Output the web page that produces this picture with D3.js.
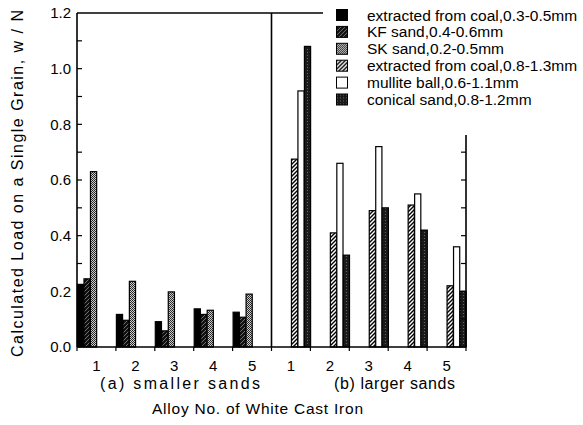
<!DOCTYPE html>
<html>
<head>
<meta charset="utf-8">
<script src="https://cdn.jsdelivr.net/npm/d3@7"></script>
<style>
  body { margin: 0; background: #fff; }
  svg { font-family: "Liberation Sans", Arial, Helvetica, sans-serif; }
</style>
</head>
<body>
<svg width="583" height="425"></svg>
<script>
// alloy numbers, two panels
const alloys = ['1', '2', '3', '4', '5'];
const panels = ['a', 'b'];
const yTicks = [0, 0.2, 0.4, 0.6, 0.8, 1.0, 1.2];

// (a) smaller sands
const coalFine = [0.225, 0.117, 0.091, 0.137, 0.125];
const kfSand = [0.245, 0.096, 0.058, 0.117, 0.107];
const skSand = [0.63, 0.236, 0.198, 0.132, 0.19];
// (b) larger sands
const coalCoarse = [0.675, 0.41, 0.49, 0.51, 0.22];
const mulliteBall = [0.92, 0.66, 0.72, 0.55, 0.36];
const conicalSand = [1.08, 0.33, 0.5, 0.42, 0.2];

const seriesNames = [
  'extracted from coal,0.3-0.5mm',
  'KF sand,0.4-0.6mm',
  'SK sand,0.2-0.5mm',
  'extracted from coal,0.8-1.3mm',
  'mullite ball,0.6-1.1mm',
  'conical sand,0.8-1.2mm'
];
const seriesData = [
  { panel: 'a', values: coalFine },
  { panel: 'a', values: kfSand },
  { panel: 'a', values: skSand },
  { panel: 'b', values: coalCoarse },
  { panel: 'b', values: mulliteBall },
  { panel: 'b', values: conicalSand }
];
const fills = ['#000', 'url(#p-kf)', 'url(#p-sk)', 'url(#p-hatch)', '#fff', 'url(#p-con)'];

const svg = d3.select('svg');
const mLeft = 77, mRight = 466, mTop = 13, mBottom = 347;

// patterns
const defs = svg.append('defs');
const kf = defs.append('pattern').attr('id', 'p-kf').attr('patternUnits', 'userSpaceOnUse')
  .attr('width', 4).attr('height', 4);
kf.append('rect').attr('width', 4).attr('height', 4).attr('fill', '#111');
kf.append('path').attr('d', 'M0,4 L4,0').attr('stroke', '#999').attr('stroke-width', 0.7);

const sk = defs.append('pattern').attr('id', 'p-sk').attr('patternUnits', 'userSpaceOnUse')
  .attr('width', 2).attr('height', 2);
sk.append('rect').attr('width', 2).attr('height', 2).attr('fill', '#ccc');
sk.append('rect').attr('width', 1).attr('height', 1).attr('fill', '#222');
sk.append('rect').attr('x', 1).attr('y', 1).attr('width', 1).attr('height', 1).attr('fill', '#333');

const hatch = defs.append('pattern').attr('id', 'p-hatch').attr('patternUnits', 'userSpaceOnUse')
  .attr('width', 4).attr('height', 4);
hatch.append('rect').attr('width', 4).attr('height', 4).attr('fill', '#fff');
hatch.append('path').attr('d', 'M-1,5 L5,-1 M-1,1 L1,-1 M3,5 L5,3').attr('stroke', '#000').attr('stroke-width', 1.4);

const con = defs.append('pattern').attr('id', 'p-con').attr('patternUnits', 'userSpaceOnUse')
  .attr('width', 3).attr('height', 3);
con.append('rect').attr('width', 3).attr('height', 3).attr('fill', '#1a1a1a');
con.append('rect').attr('x', 1).attr('y', 1).attr('width', 1).attr('height', 1).attr('fill', '#666');

// scales
const keys = panels.flatMap((p) => alloys.map((a) => p + a));
const x = d3.scaleBand().domain(keys).range([mLeft, mRight]).padding(0);
const xs = d3.scaleBand().domain(d3.range(6)).range([0, x.bandwidth()]).padding(0);
const y = d3.scaleLinear().domain([0, 1.2]).range([mBottom, mTop]);

// bars
const bars = [];
seriesData.forEach((s, i) => {
  s.values.forEach((v, j) => bars.push({ key: s.panel + alloys[j], series: i, value: v }));
});
svg.append('g')
  .selectAll('rect')
  .data(bars)
  .join('rect')
  .attr('x', (d) => x(d.key) + xs(d.series) + 0.5)
  .attr('y', (d) => y(d.value))
  .attr('width', xs.bandwidth() - 0.3)
  .attr('height', (d) => mBottom - y(d.value))
  .attr('fill', (d) => fills[d.series])
  .attr('stroke', '#000')
  .attr('stroke-width', 1.2);

// frame
const frame = svg.append('g').attr('stroke', '#000').attr('stroke-width', 1.6).attr('fill', 'none');
frame.append('line').attr('x1', mLeft).attr('x2', mLeft).attr('y1', mTop).attr('y2', mBottom);
frame.append('line').attr('x1', mLeft).attr('x2', 323).attr('y1', mTop).attr('y2', mTop);
frame.append('line').attr('x1', x('b1')).attr('x2', x('b1')).attr('y1', mTop).attr('y2', mBottom);
frame.append('line').attr('x1', mRight).attr('x2', mRight).attr('y1', 135).attr('y2', mBottom);
frame.append('line').attr('x1', mLeft).attr('x2', mRight).attr('y1', mBottom).attr('y2', mBottom);

// y axis
const yAxis = svg.append('g').attr('transform', `translate(${mLeft},0)`)
  .call(d3.axisLeft(y).tickValues(yTicks).tickFormat(d3.format('.1f')).tickSize(0).tickPadding(6));
yAxis.select('.domain').remove();
yAxis.selectAll('text').attr('font-size', 15).attr('font-family', 'Liberation Sans, Arial, sans-serif');

const minor = d3.range(1, 12).map((d) => d / 10);
svg.append('g').selectAll('line').data(minor).join('line')
  .attr('x1', mLeft).attr('x2', mLeft + 5)
  .attr('y1', (d) => y(d)).attr('y2', (d) => y(d))
  .attr('stroke', '#000').attr('stroke-width', 1.2);
svg.append('g').selectAll('line').data(minor.filter((d) => y(d) > 138)).join('line')
  .attr('x1', mRight).attr('x2', mRight - 5)
  .attr('y1', (d) => y(d)).attr('y2', (d) => y(d))
  .attr('stroke', '#000').attr('stroke-width', 1.2);

// x axis ticks at band edges
const edges = keys.map((k) => x(k)).concat([mRight]);
svg.append('g').selectAll('line').data(edges).join('line')
  .attr('x1', (d) => d).attr('x2', (d) => d)
  .attr('y1', mBottom).attr('y2', mBottom + 4)
  .attr('stroke', '#000').attr('stroke-width', 1.2);

svg.append('g').selectAll('text').data(keys).join('text')
  .attr('x', (d) => x(d) + x.bandwidth() / 2)
  .attr('y', 371)
  .attr('text-anchor', 'middle')
  .attr('font-size', 15)
  .text((d) => d.slice(1));

svg.append('text').attr('x', 100).attr('y', 389).attr('font-size', 16)
  .attr('textLength', 160).attr('lengthAdjust', 'spacing').text('(a) smaller sands');
svg.append('text').attr('x', 334).attr('y', 389).attr('font-size', 16)
  .attr('textLength', 121).attr('lengthAdjust', 'spacing').text('(b) larger sands');
svg.append('text').attr('x', 152).attr('y', 414).attr('font-size', 15.5)
  .attr('textLength', 211).attr('lengthAdjust', 'spacing').text('Alloy No. of White Cast Iron');

svg.append('text')
  .attr('transform', 'translate(23,357) rotate(-90)')
  .attr('font-size', 16)
  .attr('textLength', 347).attr('lengthAdjust', 'spacing')
  .text('Calculated Load on a Single Grain, w / N');

// legend
const legend = svg.append('g').selectAll('g').data(seriesNames).join('g')
  .attr('transform', (d, i) => `translate(336,${15 + i * 16.9})`);
legend.append('rect')
  .attr('x', 0.5).attr('y', -5.5).attr('width', 11).attr('height', 11)
  .attr('fill', (d, i) => fills[i]).attr('stroke', '#000').attr('stroke-width', 1);
legend.append('text')
  .attr('x', 31).attr('y', 5.5).attr('font-size', 15.5)
  .text((d) => d);
</script>
</body>
</html>
